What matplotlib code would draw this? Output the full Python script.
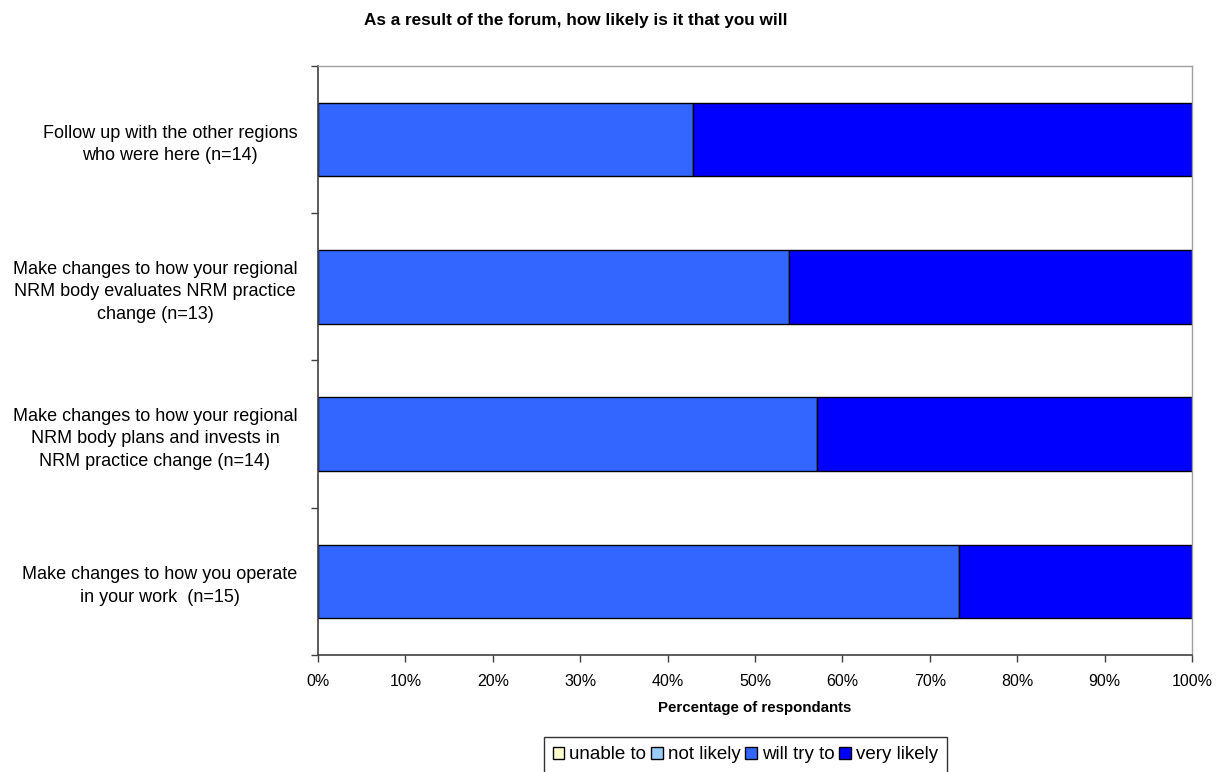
import matplotlib
matplotlib.use("Agg")
import matplotlib.pyplot as plt
from matplotlib.ticker import PercentFormatter, FixedLocator

plt.rcParams['font.family'] = ['Liberation Sans', 'DejaVu Sans']

categories = [
    "Follow up with the other regions\nwho were here (n=14)",
    "Make changes to how your regional\nNRM body evaluates NRM practice\nchange (n=13)",
    "Make changes to how your regional\nNRM body plans and invests in\nNRM practice change (n=14)",
    "Make changes to how you operate\nin your work  (n=15)",
]
series_names = ["unable to", "not likely", "will try to", "very likely"]
unable_to = [0.0, 0.0, 0.0, 0.0]
not_likely = [0.0, 0.0, 0.0, 0.0]
will_try_to = [42.86, 53.85, 57.14, 73.33]
very_likely = [57.14, 46.15, 42.86, 26.67]
colors = ["#FFFFCC", "#99CCFF", "#3366FF", "#0000FF"]

fig = plt.figure(figsize=(12.2, 7.72), dpi=100)
ax = fig.add_axes([0.2607, 0.1516, 0.7164, 0.7630])

ypos = list(range(len(categories)))
left = [0.0] * len(categories)
for name, vals, col in zip(series_names, [unable_to, not_likely, will_try_to, very_likely], colors):
    ax.barh(ypos, vals, left=left, height=0.5, color=col, edgecolor="black",
            linewidth=1.0, label=name)
    left = [l + v for l, v in zip(left, vals)]

ax.set_xlim(0, 100)
ax.set_ylim(len(categories) - 0.5, -0.5)
ax.set_xticks(range(0, 101, 10))
ax.xaxis.set_major_formatter(PercentFormatter(decimals=0))
ax.set_yticks(ypos)
ax.set_yticklabels(categories, fontsize=13, ha="right", multialignment="center",
                   linespacing=1.42)
ax.tick_params(axis="y", length=0, pad=15)
ax.yaxis.set_minor_locator(FixedLocator([i - 0.5 for i in range(len(categories) + 1)]))
ax.tick_params(axis="y", which="minor", length=5, width=1, color="#404040")
ax.tick_params(axis="x", length=5, width=1, color="#404040", labelsize=11.5, pad=9)

for s in ["left", "bottom"]:
    ax.spines[s].set_color("#404040")
    ax.spines[s].set_linewidth(1.2)
for s in ["top", "right"]:
    ax.spines[s].set_color("#A0A0A0")
    ax.spines[s].set_linewidth(1.0)

ax.set_xlabel("Percentage of respondants", fontsize=10.8, fontweight="bold", labelpad=8)
fig.text(0.472, 0.973, "As a result of the forum, how likely is it that you will",
         fontsize=12.3, fontweight="bold", ha="center", va="center")

leg = fig.legend(loc="upper center", bbox_to_anchor=(0.611, 0.0453), ncol=4, frameon=True,
                 fontsize=13.5, handlelength=0.6, handleheight=0.6, handletextpad=0.27,
                 columnspacing=0.27, borderpad=0.5, fancybox=False, borderaxespad=0)
leg.get_frame().set_edgecolor("black")
leg.get_frame().set_linewidth(1.0)

fig.savefig("out.png", dpi=100)
